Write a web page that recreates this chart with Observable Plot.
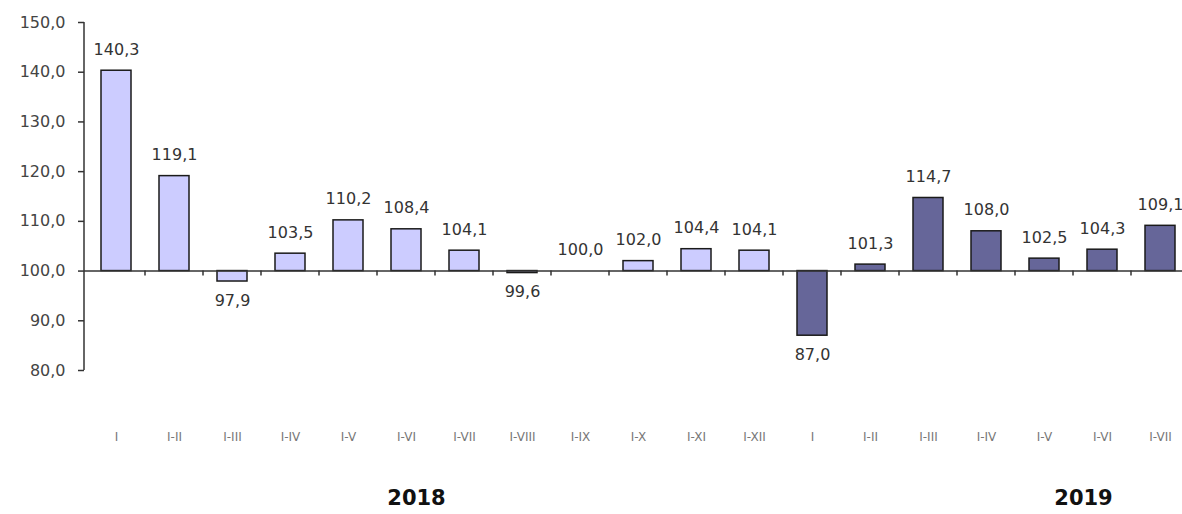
<!DOCTYPE html>
<html>
<head>
<meta charset="utf-8">
<script src="https://cdn.jsdelivr.net/npm/d3@7"></script>
<script src="https://cdn.jsdelivr.net/npm/@observablehq/plot@0.6"></script>
<style>
  html, body { margin: 0; padding: 0; background: #fff; }
  svg { font-family: "DejaVu Sans", "Liberation Sans", Arial, sans-serif; }
</style>
</head>
<body>
<div id="chart"></div>
<script>
const periods = ["I","I-II","I-III","I-IV","I-V","I-VI","I-VII","I-VIII","I-IX","I-X","I-XI","I-XII",
                 "I","I-II","I-III","I-IV","I-V","I-VI","I-VII"];
const years = ["2018","2018","2018","2018","2018","2018","2018","2018","2018","2018","2018","2018",
               "2019","2019","2019","2019","2019","2019","2019"];
const values = [140.3, 119.1, 97.9, 103.5, 110.2, 108.4, 104.1, 99.6, 100.0, 102.0, 104.4, 104.1,
                87.0, 101.3, 114.7, 108.0, 102.5, 104.3, 109.1];
const yTicks = [80, 90, 100, 110, 120, 130, 140, 150];
const yearLabels = ["2018", "2019"];
const yearAnchor = [5, 17];   // index of the period under which each year label sits
const baseline = 100;

const data = values.map((v, i) => ({i, period: periods[i], year: years[i], v}));
const fmt = d => d.toFixed(1).replace(".", ",");
const colors = {"2018": "#ccccff", "2019": "#666699"};
const periodsCount = periods.length;

const chart = Plot.plot({
  width: 1182,
  height: 514,
  marginLeft: 84,
  marginTop: 22,
  marginBottom: 144,
  marginRight: 0,
  x: {type: "band", domain: d3.range(periods.length), range: [84, 1192], paddingInner: 0.48, paddingOuter: 0.24, label: null},
  y: {domain: [80, 150], label: null},
  marks: [
    Plot.barY(data, {x: "i", y1: baseline, y2: "v", fill: d => colors[d.year], stroke: "#1a1a1a", strokeWidth: 1.5}),
    Plot.ruleY([baseline], {stroke: "#333", strokeWidth: 1.5}),
    (index, scales, vals, dims) => {
      const x = scales.x, y = scales.y;
      const g = d3.create("svg:g").attr("stroke", "#333").attr("stroke-width", 1.5).attr("fill", "none");
      g.append("line")
        .attr("x1", dims.marginLeft).attr("x2", dims.marginLeft)
        .attr("y1", y(yTicks[0])).attr("y2", y(yTicks[yTicks.length - 1]));
      const step = x(1) - x(0);
      const bw = typeof x.bandwidth === "function" ? x.bandwidth() : (x.bandwidth ?? step * 0.52);
      for (let k = 1; k < periodsCount; k++) {
        const bx = (x(k - 1) + bw + x(k)) / 2;
        g.append("line").attr("x1", bx).attr("x2", bx).attr("y1", y(baseline)).attr("y2", y(baseline) + 5);
      }
      return g.node();
    },
    Plot.axisY({ticks: yTicks, tickFormat: fmt, tickSize: 6, tickPadding: 13, fontSize: 16, color: "#444", stroke: "#333", strokeWidth: 1.5, label: null}),
    Plot.axisX({tickSize: 0, tickPadding: 62, tickFormat: i => periods[i], fontSize: 12, color: "#777", label: null}),
    Plot.text(data.filter(d => d.v >= baseline), {x: "i", y: "v", text: d => fmt(d.v), dy: -21, fontSize: 16, fill: "#333"}),
    Plot.text(data.filter(d => d.v < baseline), {x: "i", y: "v", text: d => fmt(d.v), dy: 19, fontSize: 16, fill: "#333"}),
    Plot.text([{t: yearLabels[0], i: yearAnchor[0]}], {x: "i", text: "t", frameAnchor: "bottom", lineAnchor: "middle", dy: 128, dx: 10, fontSize: 21, fontWeight: "bold", fill: "#111"}),
    Plot.text([{t: yearLabels[1], i: yearAnchor[1]}], {x: "i", text: "t", frameAnchor: "bottom", lineAnchor: "middle", dy: 128, dx: -19, fontSize: 21, fontWeight: "bold", fill: "#111"})
  ]
});
document.getElementById("chart").appendChild(chart);
</script>
</body>
</html>
